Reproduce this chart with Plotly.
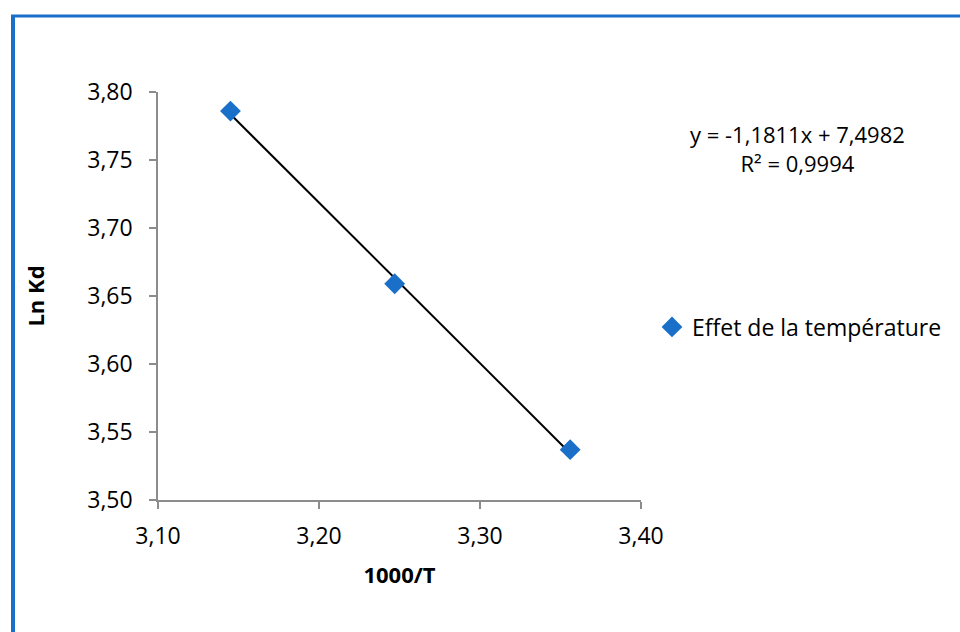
import plotly.graph_objects as go

# Measured points: inverse temperature vs. ln of distribution coefficient
inv_t = [3.145, 3.247, 3.356]
ln_kd = [3.786, 3.659, 3.537]

# Linear trendline coefficients and fit quality
slope = -1.1811
intercept = 7.4982
r2 = 0.9994

series_name = "Effet de la température"
x_ticks = [3.10, 3.20, 3.30, 3.40]
y_ticks = [3.50, 3.55, 3.60, 3.65, 3.70, 3.75, 3.80]

def fr(v, d=2):
    return f"{v:.{d}f}".replace(".", ",")

FONT = "Open Sans"
FS = 23
BLUE = "#1a6fc9"
AXIS = "#8c8c8c"

W, H = 960, 632
ML, MR, MT, MB = 158, 319, 92, 132
pw, ph = W - ML - MR, H - MT - MB

def px_x(p):
    return (p - ML) / pw

def px_y(p):
    return (H - MB - p) / ph

fig = go.Figure()

trend_x = [min(inv_t), max(inv_t)]
trend_y = [slope * v + intercept for v in trend_x]
fig.add_trace(go.Scatter(
    x=trend_x, y=trend_y, mode="lines",
    line=dict(color="black", width=2), showlegend=False, hoverinfo="skip",
))
fig.add_trace(go.Scatter(
    x=inv_t, y=ln_kd, mode="markers", name=series_name,
    marker=dict(symbol="diamond", size=16, color=BLUE),
))

eq = f"y = {fr(slope, 4)}x + {fr(intercept, 4)}<br>R² = {fr(r2, 4)}"
fig.add_annotation(
    x=px_x(797), y=px_y(148), xref="paper", yref="paper",
    xanchor="center", yanchor="middle",
    text=eq, showarrow=False, align="center",
    font=dict(family=FONT, size=FS - 1, color="black"),
)

# Blue frame around the chart area
fig.add_shape(type="line", xref="paper", yref="paper",
              x0=px_x(13), x1=px_x(13), y0=px_y(15), y1=px_y(700),
              line=dict(color=BLUE, width=4))
fig.add_shape(type="line", xref="paper", yref="paper",
              x0=px_x(11), x1=px_x(1000), y0=px_y(16), y1=px_y(16),
              line=dict(color=BLUE, width=3))

fig.update_layout(
    width=W, height=H,
    margin=dict(l=ML, r=MR, t=MT, b=MB),
    paper_bgcolor="white", plot_bgcolor="white",
    font=dict(family=FONT, size=FS, color="black"),
    showlegend=True,
    legend=dict(x=px_x(652), y=px_y(327), xanchor="left", yanchor="middle",
                font=dict(family=FONT, size=FS), bgcolor="rgba(0,0,0,0)",
                itemwidth=30),
    xaxis=dict(
        range=[3.10, 3.40], tickvals=x_ticks, ticktext=[fr(v) for v in x_ticks],
        showgrid=False, zeroline=False, showline=True, linecolor=AXIS, linewidth=1.5,
        ticks="outside", ticklen=7, tickcolor=AXIS, tickwidth=1.5,
        ticklabelstandoff=8,
        title=dict(text="<b>1000/T</b>", font=dict(family=FONT, size=FS - 1), standoff=17),
    ),
    yaxis=dict(
        range=[3.50, 3.80], tickvals=y_ticks, ticktext=[fr(v) for v in y_ticks],
        showgrid=False, zeroline=False, showline=True, linecolor=AXIS, linewidth=1.5,
        ticks="outside", ticklen=7, tickcolor=AXIS, tickwidth=1.5,
        ticklabelstandoff=12,
        title=dict(text="<b>Ln Kd</b>", font=dict(family=FONT, size=FS - 1), standoff=37),
    ),
)

fig.write_html("out.html")
